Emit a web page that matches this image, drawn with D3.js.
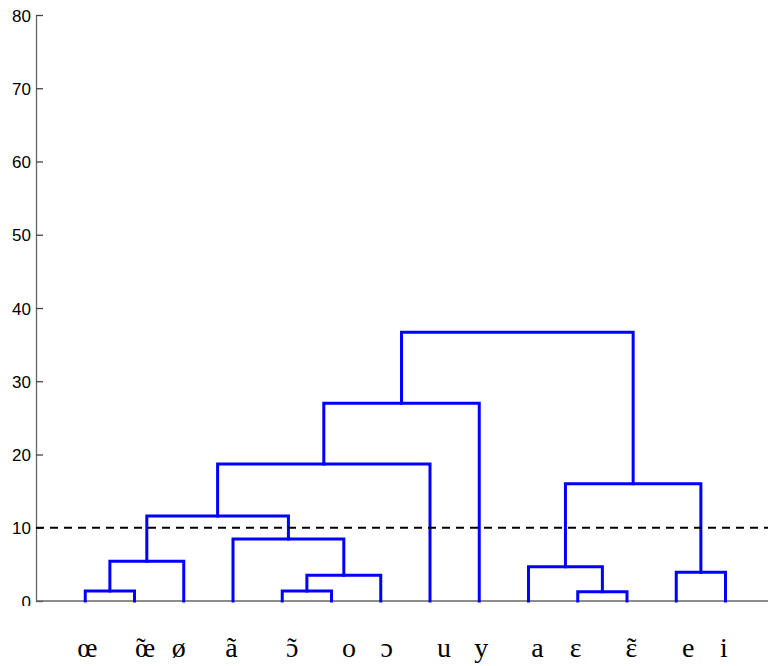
<!DOCTYPE html>
<html><head><meta charset="utf-8">
<script src="https://cdn.jsdelivr.net/npm/d3@7"></script>
<style>html,body{margin:0;padding:0;background:#fff;overflow:hidden}</style>
</head><body>
<svg id="c" width="768" height="666"></svg>
<script>
// ---- data ----
const leaves = ["œ","œ̃","ø","ã","ɔ̃","o","ɔ","u","y","a","ɛ","ɛ̃","e","i"];
// linkage: leaves are nodes 0..13, merge k becomes node 14+k
const mergeLeft   = [0, 14, 4, 16, 3, 15, 19, 20, 10, 9, 12, 23, 21];
const mergeRight  = [1, 2, 5, 6, 17, 18, 7, 8, 11, 22, 13, 24, 25];
const mergeHeight = [1.37, 5.42, 1.37, 3.5, 8.46, 11.6, 18.7, 27.0, 1.27, 4.68, 3.92, 16.0, 36.7];
const yTicks = [0,10,20,30,40,50,60,70,80];
const cutoff = 10;

// ---- layout (styling only) ----
const labelShift = [2,10.5,-5,-1.5,10,17.5,6,14,2,9,-2,4.5,12,-1.5];
const svg = d3.select("#c");
const x = d3.scaleLinear().domain([0,15]).range([36, 36+15*49.25]);
const y = d3.scaleLinear().domain([0,80]).range([601,15]);

// node positions
const nodeX = leaves.map((_,i)=>i+1);
const nodeH = leaves.map(()=>0);
mergeLeft.forEach((l,k)=>{
  const r = mergeRight[k];
  nodeX.push((nodeX[l]+nodeX[r])/2);
  nodeH.push(mergeHeight[k]);
});

// axes
const yAxis = d3.axisLeft(y).tickValues(yTicks).tickSizeInner(-7).tickSizeOuter(0).tickPadding(12);
const gy = svg.append("g").attr("transform","translate(36,0)").call(yAxis);
gy.select(".domain").attr("stroke","#666").attr("stroke-width",1.3);
gy.selectAll(".tick line").attr("stroke","#444").attr("stroke-width",1.3);
gy.selectAll(".tick text").attr("font-family","Liberation Sans, Arial, sans-serif")
  .attr("font-size",17).attr("fill","#000").attr("x",-5).attr("dy","0.36em");
// clip the 0 label like the reference
svg.append("rect").attr("x",0).attr("y",606).attr("width",35).attr("height",60).attr("fill","#fff");

// bottom axis line
svg.append("line").attr("x1",x(0)).attr("x2",x(15)).attr("y1",y(0)).attr("y2",y(0))
  .attr("stroke","#666").attr("stroke-width",1.3);

// dendrogram links
svg.append("g").selectAll("path").data(mergeHeight).join("path")
  .attr("d",(h,k)=>{
    const l = mergeLeft[k], r = mergeRight[k];
    return `M${x(nodeX[l])},${y(nodeH[l])}V${y(h)}H${x(nodeX[r])}V${y(nodeH[r])}`;
  })
  .attr("fill","none").attr("stroke","#0000ff").attr("stroke-width",3).attr("stroke-linecap","square");

// cutoff line
svg.append("line").attr("x1",x(0)).attr("x2",768).attr("y1",y(cutoff)).attr("y2",y(cutoff))
  .attr("stroke","#000").attr("stroke-width",2).attr("stroke-dasharray","8,6");

// leaf labels (combining tilde drawn as a spacing tilde tspan over the base letter)
const gl = svg.append("g")
  .attr("font-family","Liberation Serif, Times New Roman, serif").attr("font-size",28).attr("fill","#000");
const measure = s => { const t = gl.append("text").text(s); const w = t.node().getComputedTextLength(); t.remove(); return w; };
const tildeW = measure("\u02DC");
leaves.forEach((lab,i)=>{
  const hasTilde = lab.includes("\u0303");
  const base = lab.replace("\u0303","");
  const cx = x(i+1)+labelShift[i];
  if (!hasTilde) {
    gl.append("text").attr("x",cx).attr("y",657).attr("text-anchor","middle").text(base);
  } else {
    const bw = measure(base);
    const t = gl.append("text").attr("x",cx-bw/2).attr("y",657);
    t.append("tspan").text(base);
    t.append("tspan").attr("dx",-bw + 6 - tildeW/2).text("\u02DC");
  }
});
</script>
</body></html>
